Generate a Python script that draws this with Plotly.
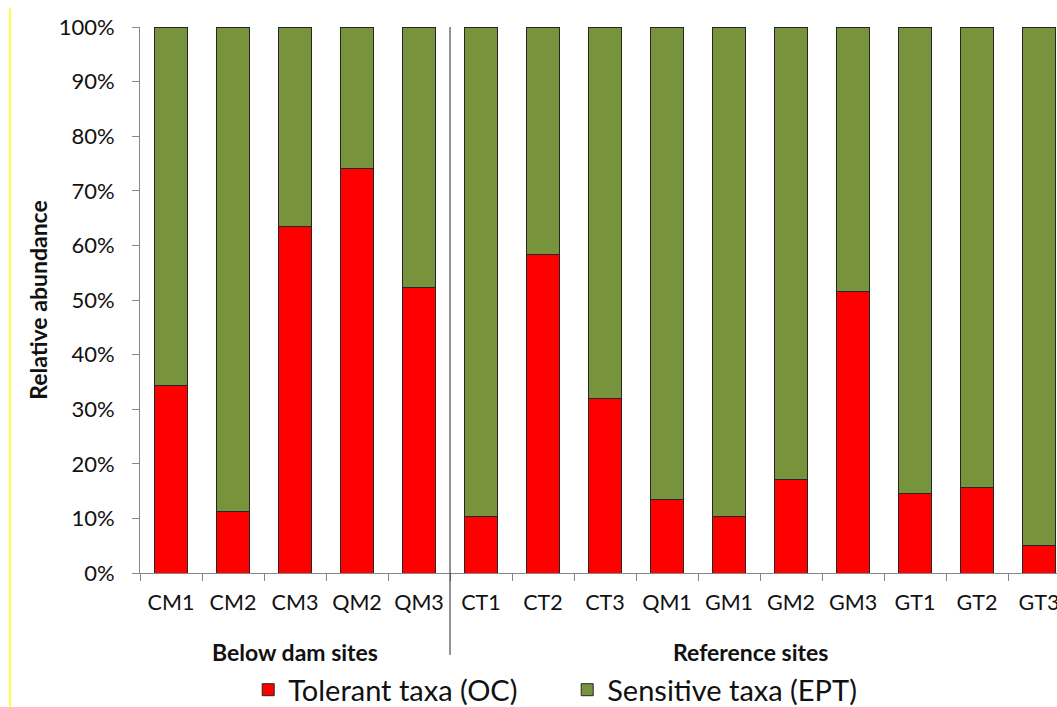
import plotly.graph_objects as go

SITES = ['CM1', 'CM2', 'CM3', 'QM2', 'QM3', 'CT1', 'CT2', 'CT3',
         'QM1', 'GM1', 'GM2', 'GM3', 'GT1', 'GT2', 'GT3']
# relative abundance, percent
TOLERANT = [34.4, 11.2, 63.4, 74.0, 52.2, 10.4, 58.4, 32.0,
            13.4, 10.4, 17.2, 51.5, 14.6, 15.7, 5.1]
SENSITIVE = [65.6, 88.8, 36.6, 26.0, 47.8, 89.6, 41.6, 68.0,
             86.6, 89.6, 82.8, 48.5, 85.4, 84.3, 94.9]
GROUPS = ['Below dam sites', 'Reference sites']

FONT = 'Lato'

fig = go.Figure()
fig.add_trace(go.Bar(x=SITES, y=TOLERANT, name='Tolerant taxa (OC)',
                     marker=dict(color='#FF0000', line=dict(color='#262626', width=1))))
fig.add_trace(go.Bar(x=SITES, y=SENSITIVE, name='Sensitive taxa (EPT)',
                     marker=dict(color='#77933C', line=dict(color='#262626', width=1))))

fig.update_layout(
    barmode='stack',
    bargap=0.48,
    width=1057, height=707,
    margin=dict(l=140, r=0, t=27, b=134, autoexpand=False),
    paper_bgcolor='white', plot_bgcolor='white',
    font=dict(family=FONT, size=22, color='#111111'),
    showlegend=True,
    legend=dict(orientation='h', x=0.118, xanchor='left', y=-0.214, yanchor='middle',
                font=dict(size=29), itemwidth=30, traceorder='normal',
                entrywidthmode='pixels', entrywidth=274),
)
fig.update_xaxes(range=[-0.5, 14.29], showline=True, linecolor='#868686', linewidth=1,
                 ticks='outside', tickson='boundaries', ticklen=7, tickcolor='#868686',
                 showgrid=False, tickfont=dict(size=21.5), ticklabelstandoff=10)
fig.update_yaxes(range=[0, 100], dtick=10, ticksuffix='%', showline=True,
                 linecolor='#868686', linewidth=1, ticks='outside', ticklen=7,
                 tickcolor='#868686', showgrid=False, zeroline=False,
                 tickfont=dict(size=22), ticklabelstandoff=13,
                 title=dict(text='<b>Relative abundance</b>', font=dict(size=23), standoff=4))

# divider between site groups
fig.add_shape(type='line', xref='x', yref='paper', x0=4.5, x1=4.5, y0=1, y1=-0.15,
              line=dict(color='#262626', width=1))
# yellow edge mark on the left
fig.add_shape(type='line', xref='paper', yref='paper', x0=-0.1418, x1=-0.1418, y0=1.035, y1=-0.25,
              line=dict(color='#FFFF00', width=1.5))

fig.add_annotation(x=2, y=-0.145, xref='x', yref='paper', text='<b>' + GROUPS[0] + '</b>',
                   showarrow=False, font=dict(size=23), yanchor='middle')
fig.add_annotation(x=9.35, y=-0.145, xref='x', yref='paper', text='<b>' + GROUPS[1] + '</b>',
                   showarrow=False, font=dict(size=23), yanchor='middle')

# drop the default page margin so the figure fills the window exactly
fig.write_html('out.html', config={'displayModeBar': False},
               post_script="document.body.style.margin='0';")
